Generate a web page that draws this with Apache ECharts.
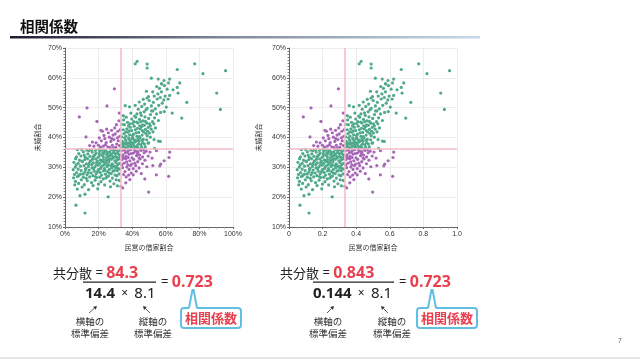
<!DOCTYPE html>
<html><head><meta charset="utf-8">
<script src="https://cdn.jsdelivr.net/npm/echarts@6/dist/echarts.min.js"></script>
<style>html,body{margin:0;padding:0;background:#fff}#c{width:640px;height:359px}</style>
</head><body><div id="c"></div>
<script>
// ---- data: [民営の借家割合 (%), 未婚割合 (%)] ----
const ptsLowLeft = [
[11.9,14.7],[6.5,17.3],[8.9,20.5],[11.9,21],[7.3,22.7],[25.7,20.1],[14,22.5],[19.5,22.8],[10.2,23.4],[5.8,24.1],[16.7,23.9],
[6.2,25.3],[8.1,24.6],[9.7,25.8],[11.5,24.2],[13.3,25.5],[15.8,24.9],[17.9,25.7],[19.9,24.4],[21.4,25.2],[23.6,24.1],[26.8,25.4],[29.1,24.5],[31.2,23.8],[5.1,26.5],[7.4,26.9],[12.6,26.3],[18.8,26.6],[22.7,26.1],[24.9,26.8],[28.2,26.4],[30.5,25.8],[14.7,26.8],[10.9,26.7],
[5.6,27.6],[6.9,28.2],[8.3,27.3],[9.6,28.9],[10.8,27.8],[11.9,28.4],[13.1,27.5],[14.4,29.1],[15.5,28.1],[16.6,27.2],[17.4,28.7],[18.6,27.9],[19.8,29.2],[20.9,28.3],[21.8,27.4],[22.9,28.8],[24.1,27.7],[25.3,28.6],[26.4,29.3],[27.5,27.9],[28.6,28.7],[29.8,27.4],[31.1,28.9],[32.2,27.8],[7.8,29.4],[12.4,29.7],[16.1,29.8],[23.5,29.6],[30.2,29.8],[4.9,29.2],[6.1,30.1],[13.8,28.2],[21.2,29.6],[25.9,27.1],[18.1,26.9],
[5.3,31.7],[6.6,30.8],[7.9,31.3],[9.2,30.4],[10.4,31.9],[11.3,30.6],[12.7,31.2],[13.9,30.3],[14.8,31.8],[15.9,30.9],[16.9,31.5],[17.8,30.2],[18.9,31.7],[19.7,30.7],[20.6,31.3],[21.5,30.1],[22.4,31.9],[23.3,30.8],[24.2,31.4],[25.1,30.3],[26.1,31.8],[27.2,30.6],[28.1,31.2],[29.2,30.4],[30.3,31.6],[31.4,30.9],[32.5,31.3],[8.6,32.4],[11.8,32.6],[15.2,32.2],[18.3,32.8],[21.1,32.5],[24.7,32.3],[27.6,32.7],[30.9,32.4],[13.4,32.9],[19.3,32.1],[26.7,32.9],[29.7,32.2],[32.1,32.8],[10.1,32.1],[16.4,32.7],[22.9,32.6],[6.3,32.9],
[6.8,33.5],[8.2,34.6],[9.5,33.8],[10.9,35.2],[12.1,33.4],[13.6,34.5],[14.9,33.7],[16.2,35.1],[17.3,33.9],[18.5,34.8],[19.6,33.3],[20.8,35.4],[21.9,34.1],[22.8,33.6],[23.9,35.6],[24.8,34.3],[25.7,33.5],[26.6,35.2],[27.4,34.4],[28.3,33.7],[29.1,35.7],[29.9,34.6],[30.8,33.4],[31.6,35.3],[32.4,34.2],[7.4,35.9],[9.9,36.0],[12.9,35.8],[15.7,35.9],[18.1,35.7],[20.2,36.0],[22.3,35.9],[24.4,35.4],[26.1,33.9],[27.9,35.9],[30.4,35.8],[32.7,35.8],[31.9,33.1],[28.8,33.2],[25.3,34.9],[23.1,34.7],[20.4,34.6],[17.9,34.3],[14.2,35.6],[11.4,34.1],
[17.1,29.5],[19.4,28.6],[22.1,30.5],[23.8,29.1],[25.6,30.9],[27.9,29.8],[29.4,28.9],[31.7,29.6],[20.3,33.8],[22.6,34.9],[24.5,33.2],[26.9,34.1],[28.7,34.9],[30.1,33.6],[31.3,34.7],[32.9,33.9],[21.7,32.2],[23.4,31.7],[25.8,32.4],[28.4,30.7],[30.7,30.3],[32.6,29.4],[18.7,30.9],[16.8,33.4],[14.1,31.1],[12.3,29.3],[9.1,27.7],[26.3,28.1],[24.3,26.4],[20.7,26.7],[27.1,23.5],[30.9,27.2],[32.3,25.6]
];
const ptsUpRight = [
[33.5,36.8],[34.6,37.5],[35.8,36.6],[36.9,38.2],[37.8,37.1],[38.9,38.7],[39.8,36.9],[40.7,37.9],[41.8,38.5],[42.9,37.3],[44.1,38.8],[45.2,37.6],[46.3,38.3],[47.8,36.9],[49.5,38.1],[34.2,38.6],[36.1,39.1],[38.2,39.4],[40.3,39.8],[43.5,39.6],[33.8,37.9],[35.2,38.1],[37.1,36.5],[39.1,37.6],[42.3,36.7],[48.6,39.2],[55.6,38.8],[53.0,39.3],[56.7,38.7],[53.4,36.4],[49.8,38.2],
[33.9,40.2],[35.1,41.3],[36.3,40.5],[37.4,41.8],[38.5,40.9],[39.6,42.3],[40.8,41.1],[41.9,42.6],[42.8,40.4],[43.9,41.7],[44.8,42.9],[45.9,40.8],[46.8,41.9],[47.9,42.7],[48.9,40.6],[50.2,41.5],[51.3,42.8],[34.7,42.6],[36.8,42.9],[38.9,43.4],[41.2,43.8],[43.2,43.1],[45.5,43.6],[47.2,44.1],[49.6,43.4],[39.9,39.6],[44.6,39.9],[46.6,39.4],[37.9,39.9],[35.6,39.8],[52.4,41.9],[50.8,40.1],[53.8,43.2],
[35.3,44.3],[37.2,45.1],[38.6,44.6],[39.7,46.2],[40.9,45.3],[42.1,46.8],[43.4,44.9],[44.3,46.1],[45.4,47.4],[46.5,45.6],[47.6,46.9],[48.7,44.8],[49.8,46.4],[50.9,47.7],[52.1,45.3],[53.3,46.6],[54.5,47.9],[42.8,47.9],[44.9,48.3],[47.1,48.6],[51.6,48.9],[36.4,46.8],[41.5,47.2],[39.2,48.2],[55.6,45.7],[56.9,48.4],[48.2,49.3],[34.9,45.9],[33.7,44.4],[46.2,44.2],[50.3,44.6],[34.7,47.3],
[38.4,50.3],[41.8,50.8],[35.8,50.7],[43.6,49.5],[45.7,50.4],[47.4,51.2],[48.9,49.8],[50.1,52.4],[51.4,50.6],[52.6,51.8],[53.8,49.6],[54.9,52.9],[55.8,50.8],[56.7,53.4],[57.9,51.5],[58.8,52.6],[49.7,53.7],[53.1,53.9],[55.3,54.6],[57.4,55.3],[59.6,53.9],[60.3,50.2],[46.6,52.8],[44.2,51.9],[52.3,48.9],[59.1,48.7],[63.8,48.2],[61.4,52.9],[48.8,53.2],
[48.5,55.5],[56.2,56.5],[57.6,57.9],[59.2,57.4],[60.8,56.2],[62.3,54.1],[61.6,58.3],[64.3,56.0],[67.3,54.9],[66.8,56.8],[68.3,58.3],[57.4,58.1],[58.9,59.1],[62.3,59.6],[51.4,59.9],[54.6,57.1],[52.2,55.3],[55.5,59.6],
[41.8,64.7],[42.9,65.5],[48.9,64.6],[48.9,63.3],[66.8,62.8],[77.2,64.7],[82.1,61.4],[95.6,62.4],[90.3,54.9],[92.5,49.4],[72.5,51.8],[69.5,46.5],
[36.6,37.7],[38.3,38.1],[40.1,38.3],[41.4,39.2],[42.6,38.9],[43.8,37.9],[45.8,39.1],[47.3,37.8],[36.2,41.9],[38.1,42.2],[40.2,40.6],[42.4,41.6],[44.2,40.3],[46.1,42.3],[48.1,41.4],[49.2,42.1],[37.8,43.9],[40.3,44.7],[42.6,45.2],[45.1,45.3],[47.9,45.4],[44.5,43.9],[34.6,36.9],[35.9,37.9],[39.3,36.8],[41.1,37.1],[43.4,36.6],[45.6,36.8],[50.8,43.9],[52.9,44.6]
];
const ptsUpLeft = [
[29.4,56.3],[13.1,49.9],[25.0,50.6],[8.5,46.9],[19.0,45.4],[32.3,48.2],[32.1,45.6],[12.5,40.2],[21.4,42.4],[24.8,42.8],[27.7,42.4],[18.5,38.2],[19.9,37.4],[21.6,38.9],[22.8,37.1],[23.7,39.6],[24.6,38.3],[25.5,36.9],[26.4,40.1],[27.3,38.7],[28.2,37.4],[29.1,39.3],[29.9,41.2],[30.8,37.8],[31.7,38.9],[32.6,40.4],[26.9,36.6],[30.2,36.7],[31.4,42.1],[28.6,40.8],[23.2,40.7],[21.1,36.8],[17.2,37.1],[16.3,38.5],[25.8,41.6],[29.6,43.2],[32.4,37.3],[31.2,39.9],[27.8,39.6],[22.3,42.1],[30.6,44.3],[24.1,37.6],[28.9,36.5],[32.8,42.6],[20.4,39.9],[14.7,37.3]
];
const ptsLowRight = [
[33.6,35.6],[34.5,34.2],[35.4,35.8],[36.3,33.7],[37.2,35.1],[38.1,34.4],[39.0,35.9],[39.9,33.2],[40.8,34.8],[41.7,35.6],[42.6,33.9],[43.5,35.2],[44.4,34.1],[45.3,35.7],[46.2,33.5],[47.1,34.9],[48.3,35.4],[49.5,33.8],[50.6,35.1],[33.9,32.6],[35.1,31.4],[36.2,32.9],[37.4,30.8],[38.6,32.2],[39.7,31.1],[40.9,32.7],[42.1,30.6],[43.3,31.9],[44.7,32.8],[46.1,31.2],[47.6,32.4],[34.3,29.9],[35.7,28.6],[36.8,30.1],[38.1,29.3],[39.4,28.1],[40.6,29.6],[42.4,28.7],[44.1,29.8],[34.9,27.6],[36.4,26.8],[37.9,27.4],[33.7,30.8],[34.2,33.4],[35.9,34.9],[37.6,33.3],[41.3,36.0],[46.8,36.0],[44.9,36.1],[43.1,34.6],
[49.8,21.7],[61.7,27.0],[54.4,27.5],[56.4,30.5],[57.0,31.1],[59.0,32.2],[61.9,33.3],[62.3,35.1],[54.4,35.6],[47.5,26.1],[40.6,27.5],[38.6,25.9],[36.2,24.8],[34.3,23.1],[33.3,23.6],[51.8,33.1],[48.7,30.2],[45.4,27.9],[52.3,30.6],
[37.8,35.7],[39.5,34.6],[42.2,35.4],[44.1,33.1],[36.7,31.8],[38.9,30.6],[41.6,31.4],[35.2,33.1]
];
const meanX = 33.0;   // 横軸の平均 (%)
const meanY = 36.2;   // 縦軸の平均 (%)
const xTicksPct = [0, 20, 40, 60, 80, 100];
const yTicksPct = [10, 20, 30, 40, 50, 60, 70];

// ---- build ----
const allPts = ptsLowLeft.concat(ptsUpRight, ptsUpLeft, ptsLowRight);
const samePts = allPts.filter(p => (p[0]-meanX)*(p[1]-meanY) >= 0);
const oppPts  = allPts.filter(p => (p[0]-meanX)*(p[1]-meanY) < 0);
const GREEN = '#4fa98a', PURPLE = '#a866b6', PINK = '#f6b9c6', RED = '#e8404f';
const LAT = '"Liberation Sans", Arial, sans-serif';
const JP = '"Noto Sans CJK JP", sans-serif';

function xAxisCfg(idx, scale) {
  return {
    gridIndex: idx, type: 'value', min: 0, max: 100*scale, interval: 20*scale,
    name: '民営の借家割合', nameLocation: 'middle', nameGap: 17,
    nameTextStyle: {fontSize: 7, color: '#333', fontFamily: JP},
    axisLine: {show: true, lineStyle: {color: '#666', width: 1}},
    axisTick: {show: true, length: 2, lineStyle: {color: '#666'}},
    minorTick: {show: true, splitNumber: 4, length: 1.5, lineStyle: {color: '#888'}},
    splitLine: {show: true, lineStyle: {color: '#ececec', width: 1}},
    axisLabel: {fontSize: 7, color: '#333', margin: 4, fontFamily: LAT,
      formatter: v => scale === 1 ? v + '%' : (v === 0 ? '0' : v.toFixed(1))}
  };
}
function yAxisCfg(idx, gap) {
  return {
    gridIndex: idx, type: 'value', min: yTicksPct[0], max: yTicksPct[yTicksPct.length-1], interval: 10,
    name: '未婚割合', nameLocation: 'middle', nameGap: gap, nameRotate: 90,
    nameTextStyle: {fontSize: 7, color: '#333', fontFamily: JP},
    axisLine: {show: true, lineStyle: {color: '#666', width: 1}},
    axisTick: {show: true, length: 2, lineStyle: {color: '#666'}},
    minorTick: {show: true, splitNumber: 10, length: 1.5, lineStyle: {color: '#888'}},
    splitLine: {show: true, lineStyle: {color: '#ececec', width: 1}},
    axisLabel: {fontSize: 7, color: '#333', margin: 3, fontFamily: LAT, formatter: '{value}%'}
  };
}
function scat(idx, data, color, scale, withMean) {
  const s = {
    type: 'scatter', xAxisIndex: idx, yAxisIndex: idx, symbolSize: 3.2,
    itemStyle: {color: color, opacity: 1}, silent: true,
    data: data.map(p => [p[0]*scale, p[1]])
  };
  if (withMean) {
    s.markLine = {
      silent: true, symbol: 'none', label: {show: false}, animation: false,
      lineStyle: {color: PINK, width: 1.5, type: 'solid'},
      data: [{xAxis: meanX*scale}, {yAxis: meanY}]
    };
  }
  return s;
}

function txt(x, y, text, rich) {
  return {type: 'text', x: x, y: y, z: 10,
    style: {text: text, rich: rich, verticalAlign: 'middle', align: 'left'}};
}
const NUMF = '"Noto Sans", "Open Sans", sans-serif';
const richTop = {
  a: {fontSize: 13, fill: '#222', fontFamily: JP},
  e: {fontSize: 13, fill: '#222', fontFamily: NUMF},
  r: {fontSize: 16, fill: RED, fontFamily: NUMF, fontWeight: 'bold'}
};
const richDen = {
  b: {fontSize: 15, fill: '#222', fontFamily: NUMF, fontWeight: 'bold'},
  x: {fontSize: 12, fill: '#222', fontFamily: NUMF},
  c: {fontSize: 15, fill: '#222', fontFamily: NUMF}
};
function arrow(x1, y1, x2, y2) {
  const ang = Math.atan2(y2-y1, x2-x1), L = 3.5, W = 2;
  const bx = x2 - L*Math.cos(ang), by = y2 - L*Math.sin(ang);
  const px = -Math.sin(ang)*W, py = Math.cos(ang)*W;
  return [
    {type: 'line', shape: {x1: x1, y1: y1, x2: bx, y2: by}, style: {stroke: '#333', lineWidth: 0.8}},
    {type: 'polygon', shape: {points: [[x2,y2],[bx+px,by+py],[bx-px,by-py]]}, style: {fill: '#333'}}
  ];
}
function formula(o) {
  const g = [];
  g.push(txt(o.topX, 273, '{a|共分散}{e| = }{r|' + o.cov + '}', richTop));
  g.push({type: 'rect', shape: {x: o.fx1, y: 281.5, width: o.fx2-o.fx1, height: 1.3}, style: {fill: '#222'}});
  g.push(txt(o.fx2 + 5, 282, '{e|= }{r|0.723}', richTop));
  g.push(txt(o.denX, 294, '{b|' + o.sx + '}{x|  ×  }{c|8.1}', richDen));
  g.push(...arrow(o.a1[0], o.a1[1], o.a1[2], o.a1[3]));
  g.push(...arrow(o.a2[0], o.a2[1], o.a2[2], o.a2[3]));
  g.push({type: 'text', x: o.n1, y: 315, z: 10, style: {text: '横軸の\n標準偏差', align: 'center', verticalAlign: 'top', fontSize: 9.5, lineHeight: 12, fill: '#333', fontFamily: JP}});
  g.push({type: 'text', x: o.n2, y: 315, z: 10, style: {text: '縦軸の\n標準偏差', align: 'center', verticalAlign: 'top', fontSize: 9.5, lineHeight: 12, fill: '#333', fontFamily: JP}});
  const bx = o.boxX, bw = 60;
  g.push({type: 'rect', shape: {x: bx, y: 308, width: bw, height: 20, r: 3}, style: {fill: '#fff', stroke: '#62bfe3', lineWidth: 2}, z: 10});
  const t = o.tip;
  g.push({type: 'polygon', shape: {points: [[t-4,309.5],[t-0.6,290],[t+0.6,290],[t+4,309.5]]}, style: {fill: '#fff'}, z: 11});
  g.push({type: 'polyline', shape: {points: [[t-4,308],[t-0.6,290],[t+0.6,290],[t+4,308]]}, style: {stroke: '#62bfe3', lineWidth: 2, fill: null}, z: 11});
  g.push({type: 'text', x: bx + bw/2, y: 318, z: 12, style: {text: '相関係数', align: 'center', verticalAlign: 'middle', fontSize: 13, fontWeight: 'bold', fill: RED, fontFamily: JP}});
  return g;
}

const graphics = [
  {type: 'text', x: 20, y: 26, style: {text: '相関係数', fontSize: 14.5, fontWeight: 'bold', fill: '#111', fontFamily: JP, verticalAlign: 'middle'}},
  {type: 'rect', shape: {x: 10, y: 36, width: 470, height: 2.5},
   style: {fill: new echarts.graphic.LinearGradient(0, 0, 1, 0, [{offset: 0, color: '#1c1c2c'}, {offset: 0.45, color: '#7d8796'}, {offset: 1, color: '#c9d8ea'}])}},
  {type: 'rect', shape: {x: 0, y: 357, width: 640, height: 2}, style: {fill: '#e6e6e6'}},
  {type: 'text', x: 620, y: 341, style: {text: '7', fontSize: 7, fill: '#666', fontFamily: LAT, align: 'center', verticalAlign: 'middle'}},
  ...formula({topX: 53, cov: '84.3', fx1: 83, fx2: 156, denX: 85, sx: '14.4',
    a1: [89,313,97,306], a2: [150,313,143,306], n1: 90, n2: 153, boxX: 181, tip: 193}),
  ...formula({topX: 280, cov: '0.843', fx1: 313, fx2: 394, denX: 313, sx: '0.144',
    a1: [327,313,334,306], a2: [388,313,381,306], n1: 328, n2: 392, boxX: 417, tip: 432})
];

const chart = echarts.init(document.getElementById('c'), null, {renderer: 'canvas'});
chart.setOption({
  animation: false,
  backgroundColor: '#fff',
  grid: [
    {left: 65, top: 48, width: 168, height: 179},
    {left: 289, top: 48, width: 168, height: 179}
  ],
  xAxis: [xAxisCfg(0, 1), xAxisCfg(1, 0.01)],
  yAxis: [yAxisCfg(0, 24), yAxisCfg(1, 27)],
  series: [
    scat(0, oppPts, PURPLE, 1, true), scat(0, samePts, GREEN, 1, false),
    scat(1, oppPts, PURPLE, 0.01, true), scat(1, samePts, GREEN, 0.01, false)
  ],
  graphic: graphics
});
</script></body></html>
